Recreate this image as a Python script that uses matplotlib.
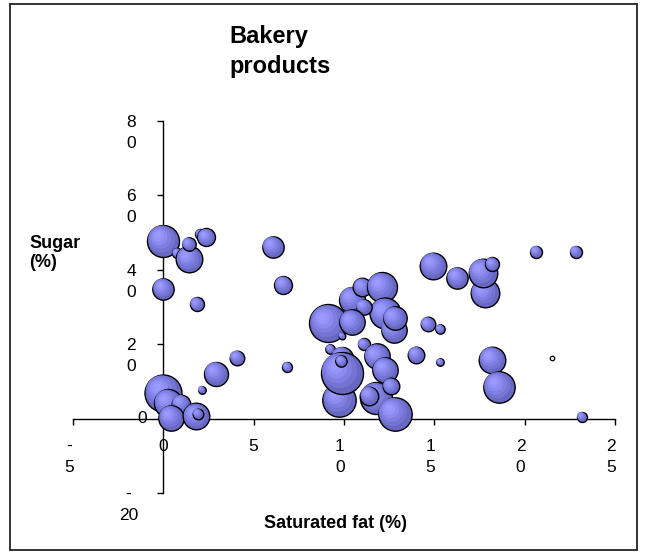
import matplotlib
matplotlib.use("Agg")
import matplotlib.pyplot as plt
from matplotlib.transforms import offset_copy, ScaledTranslation
from matplotlib.patches import Rectangle
import numpy as np

plt.rcParams['font.family'] = ['Liberation Sans', 'DejaVu Sans']

# ---- data ----
sat_fat = [0.0, 0.76, 1.44, 1.4, 2.05, 2.38, 6.07, 6.65, 0.0, 1.86,
           4.07, 2.93, 6.86, 2.12, 0.0, 0.26, 0.98, 0.44, 1.83, 1.92,
           10.45, 11.02, 12.1, 12.28, 12.74, 12.8, 11.08, 9.14, 10.44, 9.88,
           9.24, 11.08, 9.9, 11.82, 12.28, 9.75, 9.88, 9.85, 11.78, 11.4,
           12.6, 12.8, 14.0, 15.32, 14.64, 15.32, 14.95, 16.28, 17.81, 17.68,
           18.21, 20.63, 22.83, 18.21, 18.58, 21.5, 23.16]
sugar = [47.8, 44.5, 42.8, 46.9, 49.6, 48.7, 46.2, 35.9, 34.9, 30.8,
         16.4, 12.1, 13.9, 7.8, 6.9, 4.2, 4.0, 0.2, 0.6, 1.3,
         32.0, 35.3, 35.3, 28.3, 23.9, 27.0, 30.1, 25.6, 25.9, 22.3,
         18.7, 20.0, 16.4, 16.7, 13.1, 5.1, 12.3, 15.5, 5.5, 6.2,
         8.7, 1.3, 17.2, 15.2, 25.4, 24.1, 41.1, 37.9, 33.7, 39.2,
         41.5, 44.9, 44.9, 15.8, 8.5, 16.4, 0.5]
bubble_size = [256, 25, 177, 45, 25, 81, 114, 81, 114, 49,
               53, 144, 25, 14, 342, 196, 86, 161, 177, 28,
               169, 86, 225, 240, 161, 137, 59, 361, 161, 11,
               22, 36, 121, 161, 161, 279, 441, 32, 256, 86,
               69, 279, 69, 14, 53, 22, 177, 114, 204, 204,
               49, 36, 36, 177, 246, -5, 25]

x_ticks = [-5, 0, 5, 10, 15, 20, 25]
x_tick_labels = ["-\n5", "0", "5", "1\n0", "1\n5", "2\n0", "2\n5"]
y_ticks = [-20, 0, 20, 40, 60, 80]
y_tick_labels = ["-\n20", "0", "2\n0", "4\n0", "6\n0", "8\n0"]

title_text = "Bakery\nproducts"
x_label = "Saturated fat (%)"
y_label = "Sugar\n(%)"

# ---- figure ----
DPI = 100
fig = plt.figure(figsize=(6.48, 5.56), dpi=DPI)
W, H = 648, 556
ax = fig.add_axes([73 / W, 1 - 493 / H, (615 - 73) / W, (493 - 121) / H])
ax.set_xlim(-5, 25)
ax.set_ylim(-20, 80)

ax.spines['left'].set_position(('data', 0))
ax.spines['bottom'].set_position(('data', 0))
ax.spines['top'].set_visible(False)
ax.spines['right'].set_visible(False)
for sp in ('left', 'bottom'):
    ax.spines[sp].set_linewidth(1.0)
    ax.spines[sp].set_color('black')
ax.set_xticks(x_ticks)
ax.set_yticks(y_ticks)
ax.tick_params(axis='both', direction='out', length=4.3, width=1.0,
               labelbottom=False, labelleft=False, color='black')
ax.patch.set_alpha(0)

TICK_FS = 12.5
LS = 1.5
# tick labels as text tied to data positions
for v, lab in zip(x_ticks, x_tick_labels):
    dx = -4 if "\n" in lab else 0
    tr = ax.transData + ScaledTranslation(dx / DPI, -20 / DPI, fig.dpi_scale_trans)
    ax.text(v, 0, lab, transform=tr, ha='center', va='top', fontsize=TICK_FS,
            multialignment='center', linespacing=LS)
for v, lab in zip(y_ticks, y_tick_labels):
    if "\n" in lab:
        dx = -35 if "20" in lab else -32
        tr = ax.transData + ScaledTranslation(dx / DPI, 6 / DPI, fig.dpi_scale_trans)
        ax.text(0, v, lab, transform=tr, ha='center', va='top', fontsize=TICK_FS,
                multialignment='center', linespacing=LS)
    else:
        tr = ax.transData + ScaledTranslation(-21 / DPI, 0, fig.dpi_scale_trans)
        ax.text(0, v, lab, transform=tr, ha='center', va='center', fontsize=TICK_FS)

# ---- bubbles ----
pt_per_px = 72.0 / DPI
layers = [  # (radius fraction, offset fraction, color)
    (0.84, 0.11, '#7474D4'),
    (0.68, 0.19, '#7F7FE2'),
    (0.52, 0.25, '#8A8AEF'),
    (0.36, 0.30, '#9393F8'),
    (0.20, 0.33, '#9B9BFF'),
]
for xv, yv, sz in zip(sat_fat, sugar, bubble_size):
    r_px = np.sqrt(abs(sz))
    r_pt = r_px * pt_per_px
    if sz < 0:
        ax.scatter([xv], [yv], s=(2 * r_pt) ** 2, facecolor='white',
                   edgecolor='black', linewidth=0.9, clip_on=False, zorder=3)
        continue
    ax.scatter([xv], [yv], s=(2 * r_pt) ** 2, facecolor='#6868C2',
               edgecolor='black', linewidth=1.0, clip_on=False, zorder=3)
    for fr, off, col in layers:
        tr = offset_copy(ax.transData, fig=fig, x=-off * r_pt, y=off * r_pt,
                         units='points')
        ax.scatter([xv], [yv], s=(2 * r_pt * fr) ** 2, facecolor=col,
                   edgecolor='none', transform=tr, clip_on=False, zorder=3)

# ---- texts ----
fig.text(229 / W, 1 - 25 / H, title_text, ha='left', va='top', fontsize=17,
         fontweight='bold', linespacing=1.4)
fig.text(29 / W, 1 - 253 / H, y_label, ha='left', va='center', fontsize=13,
         fontweight='bold', linespacing=1.15)
fig.text(336 / W, 1 - 524 / H, x_label, ha='center', va='center', fontsize=13,
         fontweight='bold')

# chart border
fig.patches.append(Rectangle((10 / W, 1 - 550 / H), (637 - 10) / W, (550 - 4) / H,
                             transform=fig.transFigure, fill=False,
                             edgecolor='#222222', linewidth=1.3))

fig.savefig("out.png", dpi=DPI, facecolor='white')
